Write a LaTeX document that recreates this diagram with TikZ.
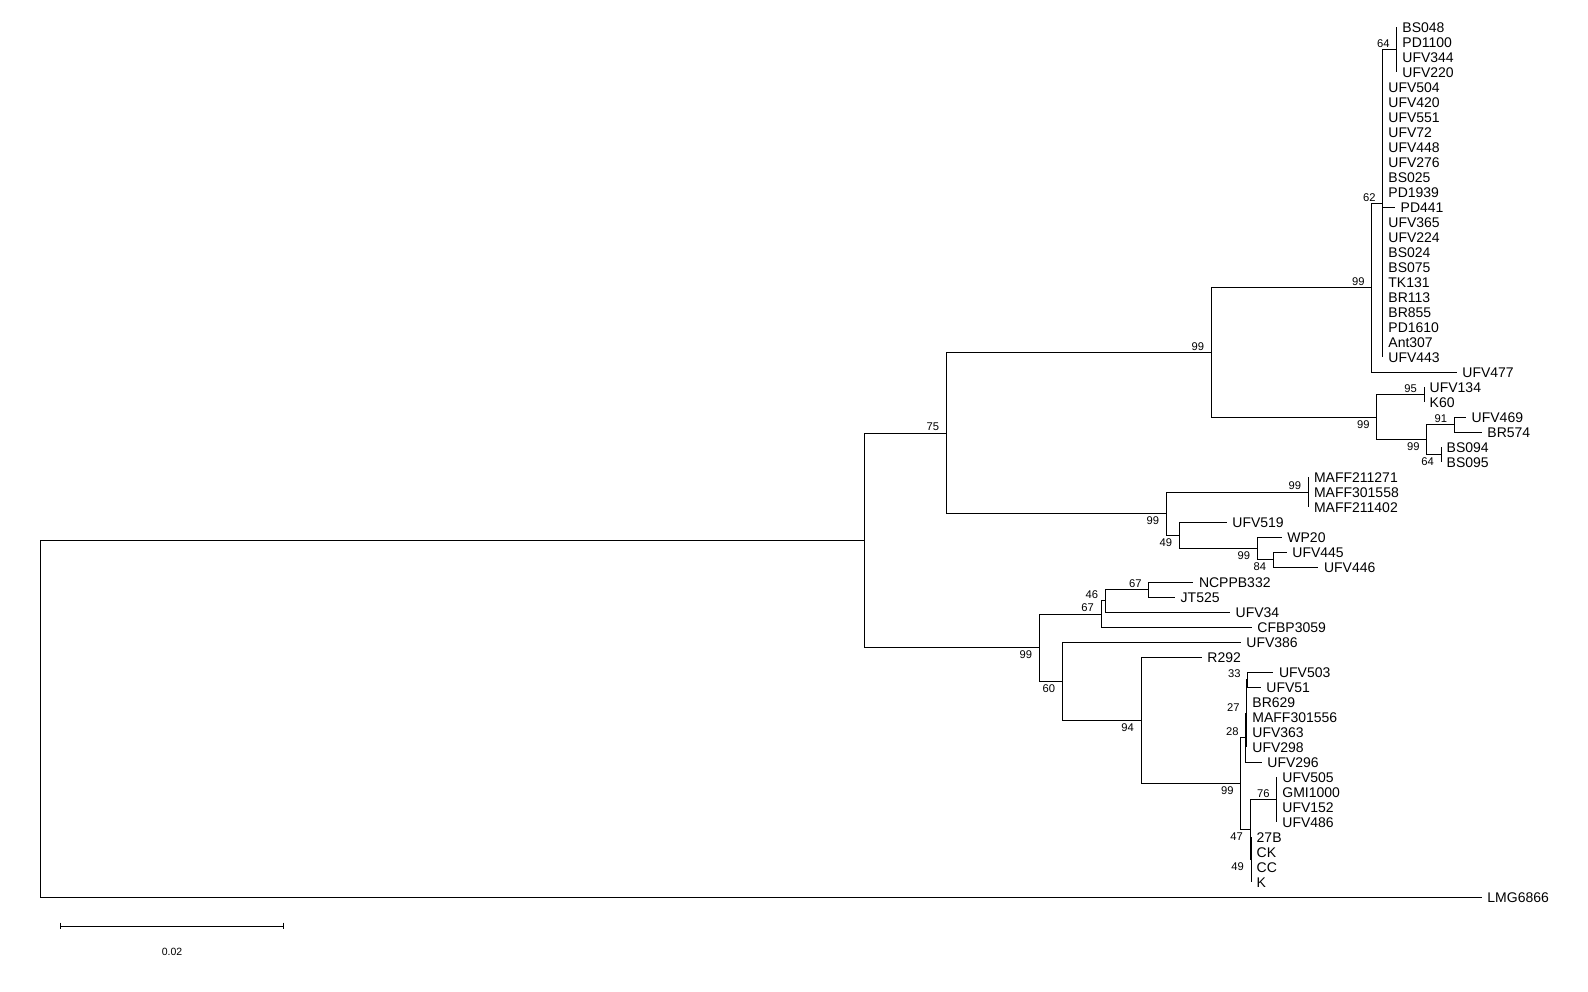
\documentclass[tikz,border=0pt]{standalone}
\usepackage{fontspec}
\setmainfont{Liberation Sans}
% leaf: name, x of branch end, row index, label
\newcommand\leaf[4]{%
  \coordinate (#1) at (#2,{27.2+15*#3});
  \node[taxon] (#1-lab) at (#1) {#4};}
\begin{document}
\begin{tikzpicture}[x=1pt,y=-1pt,
  branch/.style={line width=1pt, line join=miter},
  taxon/.style={anchor=base west, inner sep=0pt, xshift=5.5pt, yshift=-5pt,
    font=\fontsize{14}{16}\selectfont},
  bsup/.style={anchor=south east, inner sep=0pt, xshift=-7pt, yshift=2pt,
    font=\fontsize{11.2}{13}\selectfont},
  bsdown/.style={anchor=north east, inner sep=0pt, xshift=-7pt, yshift=-3pt,
    font=\fontsize{11.2}{13}\selectfont},
  scalelab/.style={inner sep=0pt, font=\fontsize{10.5}{12}\selectfont}]
\useasboundingbox (0,0) rectangle (1588,992);

% ---- internal nodes ----
\coordinate (n64a) at (1396.7,49.7);
\coordinate (n62)  at (1382.7,203.45);
\coordinate (n99a) at (1371.7,287.83);
\coordinate (n95)  at (1424,394.7);
\coordinate (n91)  at (1454.3,424.7);
\coordinate (n64b) at (1441,454.7);
\coordinate (n99c) at (1426.7,439.7);
\coordinate (n99b) at (1376.7,417.2);
\coordinate (n99d) at (1211.3,352.5);
\coordinate (n99m) at (1308.3,492.2);
\coordinate (n84)  at (1273.3,559.7);
\coordinate (n99w) at (1257.3,548.45);
\coordinate (n49a) at (1179.3,535.3);
\coordinate (n99e) at (1166.3,513.75);
\coordinate (n75)  at (946.3,433.1);
\coordinate (n67a) at (1148.7,589.7);
\coordinate (n46)  at (1105.3,600.95);
\coordinate (n67b) at (1101,614.1);
\coordinate (n33)  at (1247.7,679.7);
\coordinate (n27)  at (1246.7,713.45);
\coordinate (n28)  at (1245.7,737.8);
\coordinate (n76)  at (1276.7,799.7);
\coordinate (n49b) at (1251,859.7);
\coordinate (n47)  at (1250,829.7);
\coordinate (n99f) at (1240.7,783.75);
\coordinate (n94)  at (1141,720.5);
\coordinate (n60)  at (1062.3,681.35);
\coordinate (n99g) at (1039.3,647.7);
\coordinate (nA)   at (864.3,540.4);
\coordinate (root) at (40.3,718.8);

% ---- leaves ----
\leaf{t0}{1396.7}{0}{BS048}
\leaf{t1}{1396.7}{1}{PD1100}
\leaf{t2}{1396.7}{2}{UFV344}
\leaf{t3}{1396.7}{3}{UFV220}
\leaf{t4}{1382.7}{4}{UFV504}
\leaf{t5}{1382.7}{5}{UFV420}
\leaf{t6}{1382.7}{6}{UFV551}
\leaf{t7}{1382.7}{7}{UFV72}
\leaf{t8}{1382.7}{8}{UFV448}
\leaf{t9}{1382.7}{9}{UFV276}
\leaf{t10}{1382.7}{10}{BS025}
\leaf{t11}{1382.7}{11}{PD1939}
\leaf{t12}{1395}{12}{PD441}
\leaf{t13}{1382.7}{13}{UFV365}
\leaf{t14}{1382.7}{14}{UFV224}
\leaf{t15}{1382.7}{15}{BS024}
\leaf{t16}{1382.7}{16}{BS075}
\leaf{t17}{1382.7}{17}{TK131}
\leaf{t18}{1382.7}{18}{BR113}
\leaf{t19}{1382.7}{19}{BR855}
\leaf{t20}{1382.7}{20}{PD1610}
\leaf{t21}{1382.7}{21}{Ant307}
\leaf{t22}{1382.7}{22}{UFV443}
\leaf{t23}{1456.7}{23}{UFV477}
\leaf{t24}{1424}{24}{UFV134}
\leaf{t25}{1424}{25}{K60}
\leaf{t26}{1466}{26}{UFV469}
\leaf{t27}{1481.7}{27}{BR574}
\leaf{t28}{1441}{28}{BS094}
\leaf{t29}{1441}{29}{BS095}
\leaf{t30}{1308.3}{30}{MAFF211271}
\leaf{t31}{1308.3}{31}{MAFF301558}
\leaf{t32}{1308.3}{32}{MAFF211402}
\leaf{t33}{1226.7}{33}{UFV519}
\leaf{t34}{1281.7}{34}{WP20}
\leaf{t35}{1286.7}{35}{UFV445}
\leaf{t36}{1318.3}{36}{UFV446}
\leaf{t37}{1193.3}{37}{NCPPB332}
\leaf{t38}{1175}{38}{JT525}
\leaf{t39}{1230}{39}{UFV34}
\leaf{t40}{1251.7}{40}{CFBP3059}
\leaf{t41}{1240.7}{41}{UFV386}
\leaf{t42}{1201.7}{42}{R292}
\leaf{t43}{1273.3}{43}{UFV503}
\leaf{t44}{1260.7}{44}{UFV51}
\leaf{t45}{1246.7}{45}{BR629}
\leaf{t46}{1246.7}{46}{MAFF301556}
\leaf{t47}{1246.7}{47}{UFV363}
\leaf{t48}{1246.7}{48}{UFV298}
\leaf{t49}{1261.7}{49}{UFV296}
\leaf{t50}{1276.7}{50}{UFV505}
\leaf{t51}{1276.7}{51}{GMI1000}
\leaf{t52}{1276.7}{52}{UFV152}
\leaf{t53}{1276.7}{53}{UFV486}
\leaf{t54}{1251}{54}{27B}
\leaf{t55}{1251}{55}{CK}
\leaf{t56}{1251}{56}{CC}
\leaf{t57}{1251}{57}{K}
\leaf{t58}{1481.7}{58}{LMG6866}

% ---- branches ----
\foreach \p/\c in {
  n64a/t0, n64a/t1, n64a/t2, n64a/t3,
  n62/n64a, n62/t4, n62/t5, n62/t6, n62/t7, n62/t8, n62/t9, n62/t10, n62/t11,
  n62/t12, n62/t13, n62/t14, n62/t15, n62/t16, n62/t17, n62/t18, n62/t19,
  n62/t20, n62/t21, n62/t22,
  n99a/n62, n99a/t23,
  n95/t24, n95/t25, n91/t26, n91/t27, n64b/t28, n64b/t29,
  n99c/n91, n99c/n64b, n99b/n95, n99b/n99c,
  n99d/n99a, n99d/n99b,
  n99m/t30, n99m/t31, n99m/t32,
  n84/t35, n84/t36, n99w/t34, n99w/n84,
  n49a/t33, n49a/n99w, n99e/n99m, n99e/n49a,
  n75/n99d, n75/n99e,
  n67a/t37, n67a/t38, n46/n67a, n46/t39, n67b/n46, n67b/t40,
  n33/t43, n33/t44, n27/n33, n27/t45, n27/t46, n27/t47, n27/t48,
  n28/n27, n28/t49,
  n76/t50, n76/t51, n76/t52, n76/t53,
  n49b/t54, n49b/t55, n49b/t56, n49b/t57,
  n47/n76, n47/n49b, n99f/n28, n99f/n47,
  n94/t42, n94/n99f, n60/t41, n60/n94, n99g/n67b, n99g/n60,
  nA/n75, nA/n99g, root/nA, root/t58}
  \draw[branch] (\p) |- (\c);

% ---- bootstrap values ----
\foreach \n/\v in {n64a/64, n62/62, n99a/99, n99d/99, n95/95, n91/91, n75/75,
  n99m/99, n67a/67, n46/46, n67b/67, n33/33, n27/27, n28/28, n76/76}
  \node[bsup] (bs-\n) at (\n) {\v};
\foreach \n/\v in {n99b/99, n99c/99, n64b/64, n99e/99, n49a/49, n99w/99,
  n84/84, n99g/99, n60/60, n94/94, n99f/99, n47/47, n49b/49}
  \node[bsdown] (bs-\n) at (\n) {\v};

% ---- scale bar ----
\coordinate (sbl) at (60.3,926);
\coordinate (sbr) at (283.3,926);
\draw[branch] (sbl) -- (sbr);
\draw[branch] ([yshift=3.3pt]sbl) -- ([yshift=-3.3pt]sbl);
\draw[branch] ([yshift=3.3pt]sbr) -- ([yshift=-3.3pt]sbr);
\node[scalelab] (sblab) at (172,952) {0.02};
\end{tikzpicture}
\end{document}
